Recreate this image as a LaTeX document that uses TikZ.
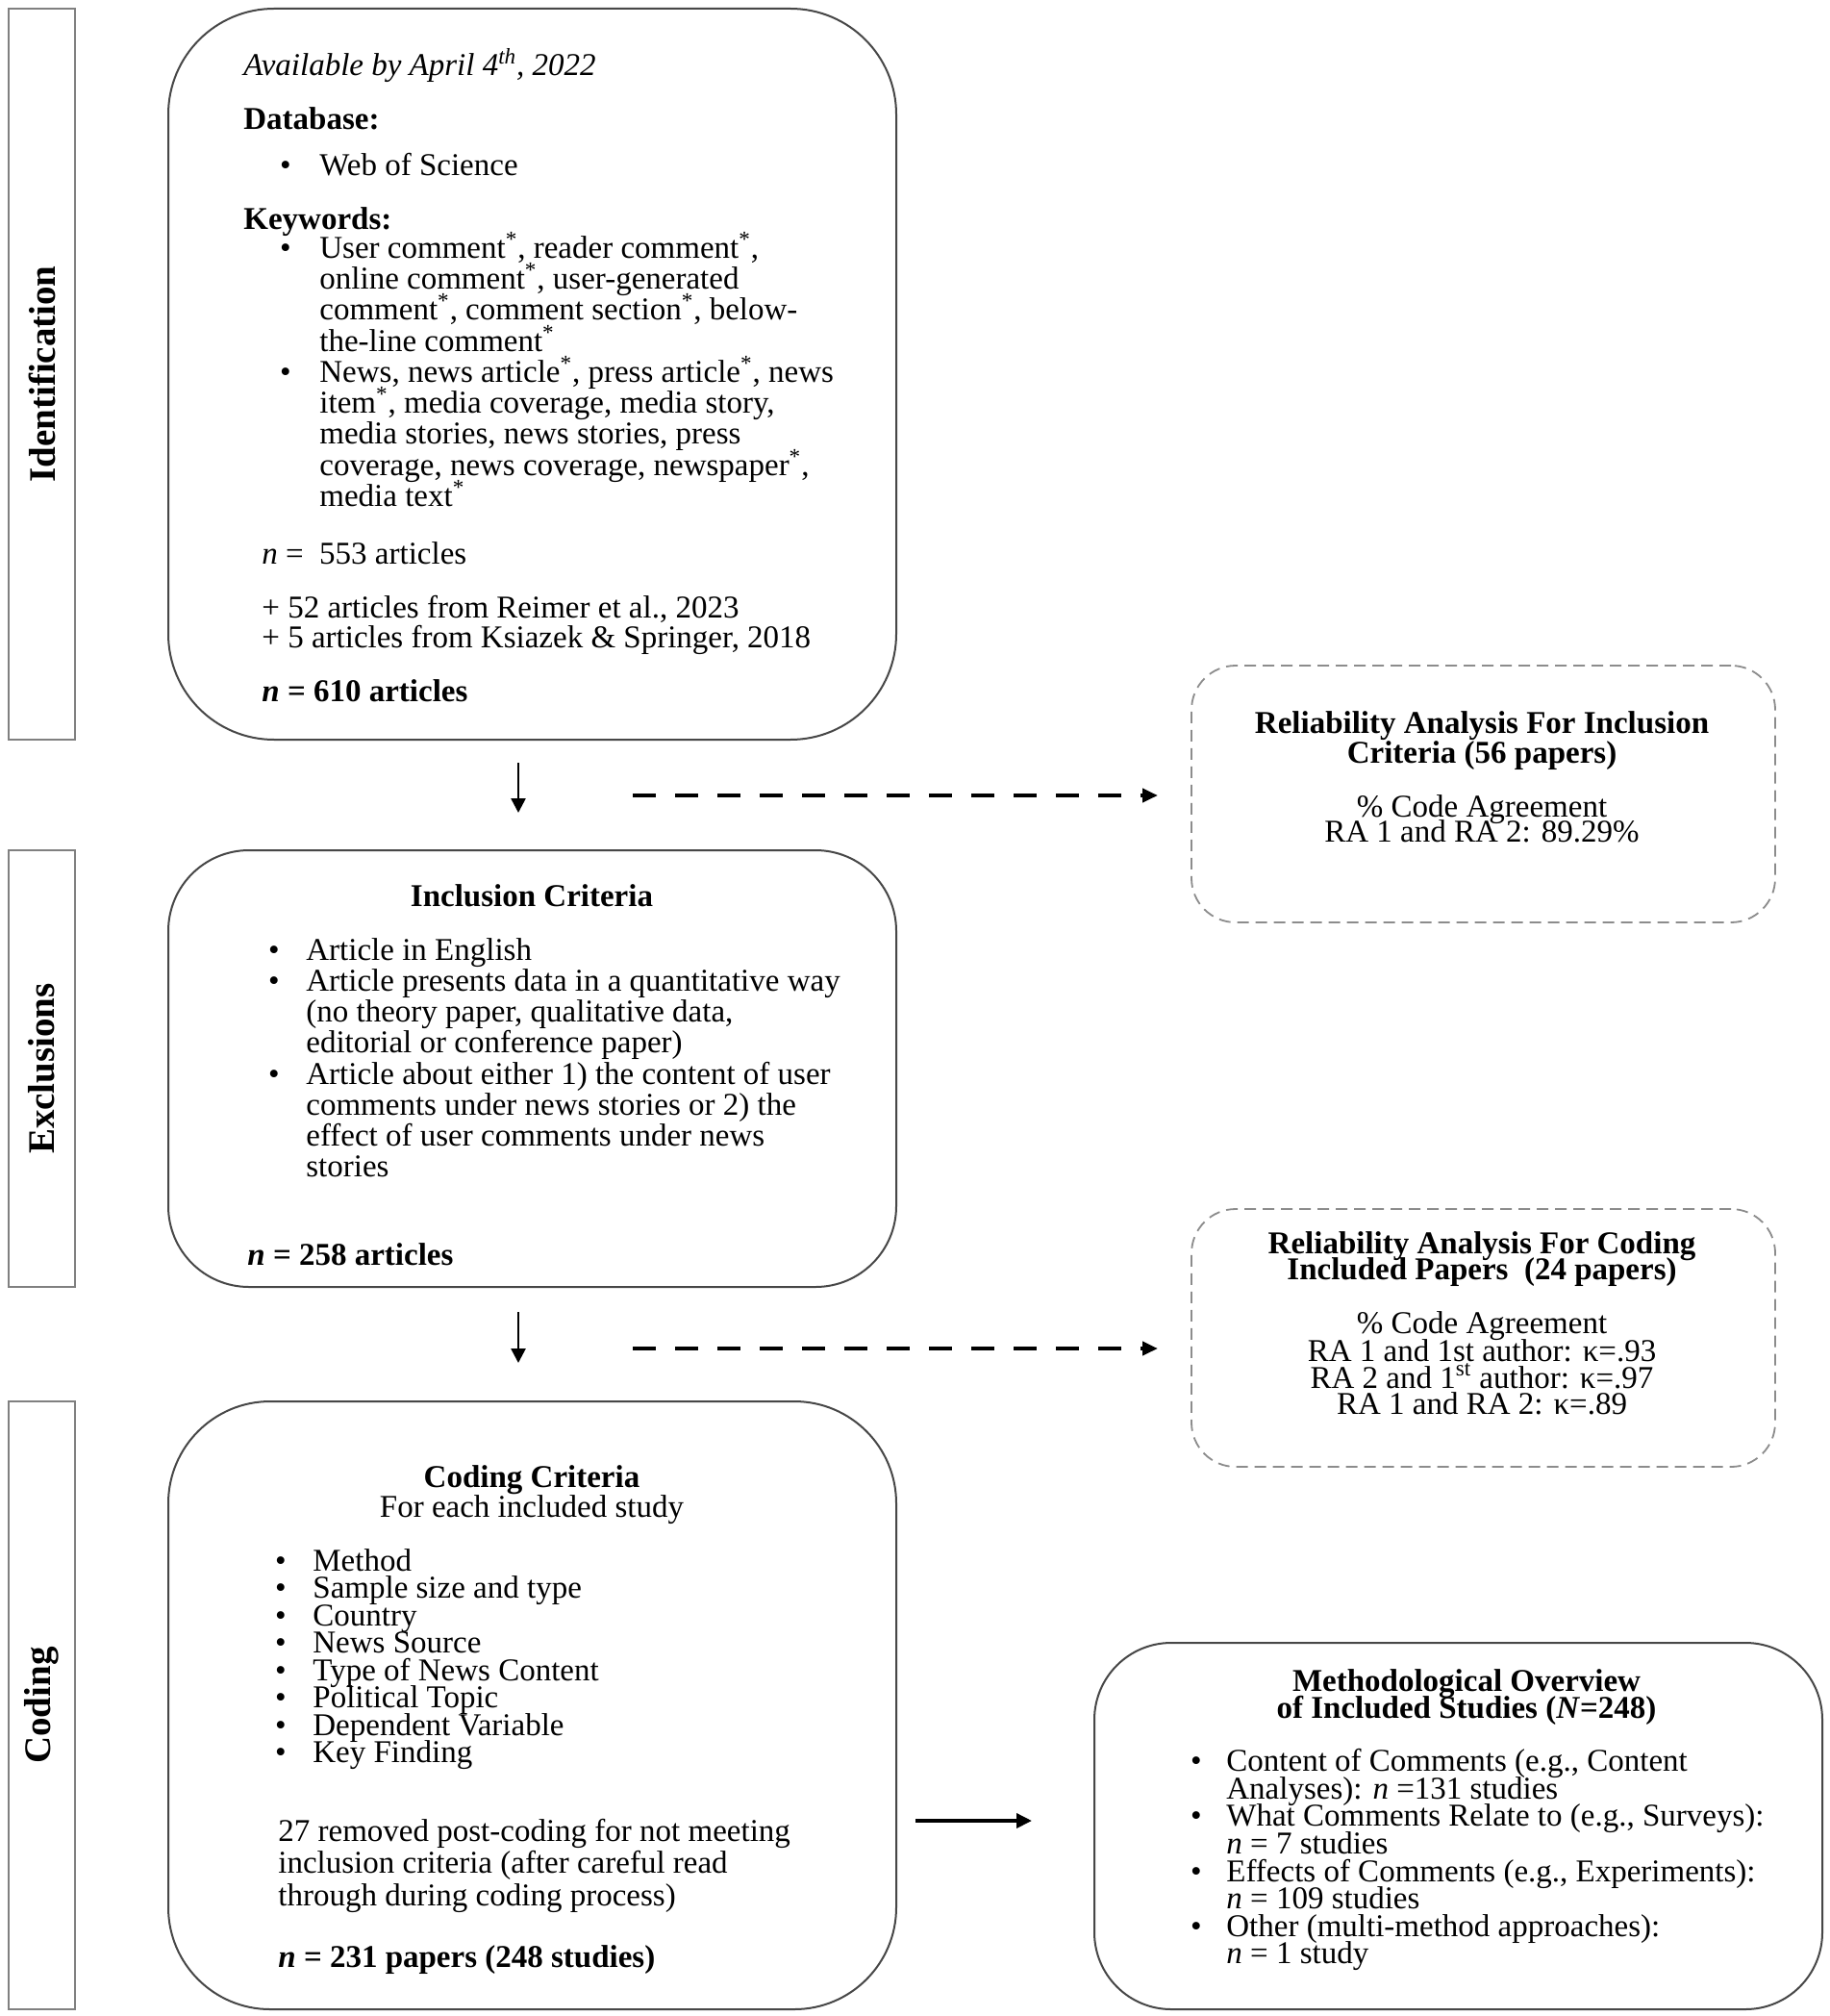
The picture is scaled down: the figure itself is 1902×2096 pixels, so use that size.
\documentclass[tikz,border=0pt]{standalone}
\usepackage{fontspec}
\setmainfont{Liberation Serif}
\usetikzlibrary{arrows.meta}

\tikzset{
  stagebox/.style={draw=black!72, line width=1pt, inner sep=0pt, minimum width=378.5pt},
  relbox/.style={draw=black!45, line width=0.9pt, dash pattern=on 6pt off 3.5pt,
    rounded corners=23pt, inner sep=0pt, minimum width=303.5pt},
  sidebar/.style={draw=black!50, line width=1.2pt, inner sep=0pt, minimum width=34.5pt},
  sidelbl/.style={rotate=90, inner sep=0pt, font=\fontsize{19.5}{22}\selectfont\bfseries},
  txt/.style={anchor=base west, inner sep=0pt, yshift=-2pt, font=\fontsize{16.5}{19}\selectfont},
  ctxt/.style={anchor=base, inner sep=0pt, yshift=-2pt, font=\fontsize{16.5}{19}\selectfont},
  bul/.style={anchor=base, inner sep=0pt, yshift=-2pt, font=\fontsize{16.5}{19}\selectfont},
  thinarr/.style={line width=1.3pt, -{Triangle[length=7.5pt,width=7.5pt]}},
  dasharr/.style={line width=2pt, dash pattern=on 12pt off 10pt, -{Triangle[length=8pt,width=7pt]}},
  solidarr/.style={line width=1.8pt, -{Triangle[length=8pt,width=7.5pt]}},
}

\begin{document}
\begin{tikzpicture}[x=0.5pt,y=-0.5pt]
  \path[use as bounding box, fill=white] (0,0) rectangle (1902,2096);

  % Stage bars on the left
  \node[sidebar, minimum height=380pt] (barid) at (43.5,389) {};
  \node[sidebar, minimum height=227pt] (barex) at (43.5,1111) {};
  \node[sidebar, minimum height=316pt] (barco) at (43.5,1773) {};
  \node[sidelbl] (lblid) at (barid) {Identification};
  \node[sidelbl] (lblex) at (barex) {Exclusions};
  \node[sidelbl] (lblco) at (barco) {Coding};

  % Main boxes
  \node[stagebox, rounded corners=55pt, minimum height=380pt] (ident) at (553.5,389) {};
  \node[stagebox, rounded corners=42pt, minimum height=227pt] (incl) at (553.5,1111) {};
  \node[stagebox, rounded corners=53pt, minimum height=316pt] (coding) at (553.5,1773) {};
  \node[stagebox, rounded corners=40pt, minimum height=190.5pt] (method) at (1516.5,1898.5) {};
  \node[relbox, minimum height=133.5pt] (rel1) at (1542.5,825.5) {};
  \node[relbox, minimum height=134pt] (rel2) at (1542.5,1391) {};

  % Identification
  \node[txt] (avail) at (253,75) {\itshape Available by April 4\textsuperscript{th}, 2022};
  \node[txt] (db) at (253,131) {\bfseries Database:};
  \node[bul] (dbb) at (297,179) {\textbullet};
  \node[txt] (wos) at (332,179) {Web of Science};
  \node[txt] (kw) at (253,235) {\bfseries Keywords:};
  \foreach \y [count=\i] in {265,394}
    \node[bul] (kwb\i) at (297,\y) {\textbullet};
  \foreach \y/\t [count=\i] in {265/{User comment\textsuperscript{*}, reader comment\textsuperscript{*},},
      297/{online comment\textsuperscript{*}, user-generated},
      329/{comment\textsuperscript{*}, comment section\textsuperscript{*}, below-},
      362/{the-line comment\textsuperscript{*}},
      394/{News, news article\textsuperscript{*}, press article\textsuperscript{*}, news},
      426/{item\textsuperscript{*}, media coverage, media story,},
      458/{media stories, news stories, press},
      491/{coverage, news coverage, newspaper\textsuperscript{*},},
      523/{media text\textsuperscript{*}}}
    \node[txt] (kw\i) at (332,\y) {\t};
  \node[txt] (n553) at (272,583) {\textit{n} =\ \ 553 articles};
  \node[txt] (add52) at (272,638) {+ 52 articles from Reimer et al., 2023};
  \node[txt] (add5) at (272,669) {+ 5 articles from Ksiazek \& Springer, 2018};
  \node[txt] (n610) at (272,725) {\bfseries\textit{n} = 610 articles};

  % Inclusion criteria
  \node[ctxt] (incltitle) at (553,938) {\bfseries Inclusion Criteria};
  \foreach \y [count=\i] in {994,1026,1123}
    \node[bul] (inb\i) at (285,\y) {\textbullet};
  \foreach \y/\t [count=\i] in {994/{Article in English},
      1026/{Article presents data in a quantitative way},
      1058/{(no theory paper, qualitative data,},
      1090/{editorial or conference paper)},
      1123/{Article about either 1) the content of user},
      1155/{comments under news stories or 2) the},
      1187/{effect of user comments under news},
      1219/{stories}}
    \node[txt] (in\i) at (318,\y) {\t};
  \node[txt] (n258) at (257,1311) {\bfseries\textit{n} = 258 articles};

  % Coding criteria
  \node[ctxt] (codtitle) at (553,1542) {\bfseries Coding Criteria};
  \node[ctxt] (codsub) at (553,1573) {For each included study};
  \foreach \y/\t [count=\i] in {1629/Method, 1657/Sample size and type, 1686/Country,
      1714/News Source, 1743/Type of News Content, 1771/Political Topic,
      1800/Dependent Variable, 1828/Key Finding}
    {\node[bul] (cob\i) at (292,\y) {\textbullet};
     \node[txt] (co\i) at (325,\y) {\t};}
  \node[txt] (rem1) at (289,1910) {27 removed post-coding for not meeting};
  \node[txt] (rem2) at (289,1943) {inclusion criteria (after careful read};
  \node[txt] (rem3) at (289,1977) {through during coding process)};
  \node[txt] (n231) at (289,2041) {\bfseries\textit{n} = 231 papers (248 studies)};

  % Reliability boxes
  \node[ctxt] (r1a) at (1541,758) {\bfseries Reliability Analysis For Inclusion};
  \node[ctxt] (r1b) at (1541,789) {\bfseries Criteria (56 papers)};
  \node[ctxt] (r1c) at (1541,845) {\% Code Agreement};
  \node[ctxt] (r1d) at (1541,871) {RA 1 and RA 2: 89.29\%};

  \node[ctxt] (r2a) at (1541,1299) {\bfseries Reliability Analysis For Coding};
  \node[ctxt] (r2b) at (1541,1326) {\bfseries Included Papers\ \ (24 papers)};
  \node[ctxt] (r2c) at (1541,1382) {\% Code Agreement};
  \node[ctxt] (r2d) at (1541,1411) {RA 1 and 1st author: κ=.93};
  \node[ctxt] (r2e) at (1541,1439) {RA 2 and 1\textsuperscript{st} author: κ=.97};
  \node[ctxt] (r2f) at (1541,1466) {RA 1 and RA 2: κ=.89};

  % Methodological overview
  \node[ctxt] (mta) at (1525,1754) {\bfseries Methodological Overview};
  \node[ctxt] (mtb) at (1525,1782) {\bfseries of Included Studies (\textit{N}=248)};
  \foreach \y [count=\i] in {1837,1894,1952,2009}
    \node[bul] (mb\i) at (1244,\y) {\textbullet};
  \foreach \y/\t [count=\i] in {1837/{Content of Comments (e.g., Content},
      1866/{Analyses): \textit{n} =131 studies},
      1894/{What Comments Relate to (e.g., Surveys):},
      1923/{\textit{n} = 7 studies},
      1952/{Effects of Comments (e.g., Experiments):},
      1980/{\textit{n} = 109 studies},
      2009/{Other (multi-method approaches):},
      2037/{\textit{n} = 1 study}}
    \node[txt] (m\i) at (1275,\y) {\t};

  % Arrows
  \coordinate (d1s) at (539,793);  \coordinate (d1e) at (539,845);
  \coordinate (d2s) at (539,1364); \coordinate (d2e) at (539,1417);
  \coordinate (h1s) at (658,827);  \coordinate (h1e) at (1204,827);
  \coordinate (h2s) at (658,1402); \coordinate (h2e) at (1204,1402);
  \coordinate (h3s) at (952,1893); \coordinate (h3e) at (1073,1893);
  \draw[thinarr] (d1s) -- (d1e);
  \draw[thinarr] (d2s) -- (d2e);
  \draw[dasharr] (h1s) -- (h1e);
  \draw[dasharr] (h2s) -- (h2e);
  \draw[solidarr] (h3s) -- (h3e);
\end{tikzpicture}
\end{document}
